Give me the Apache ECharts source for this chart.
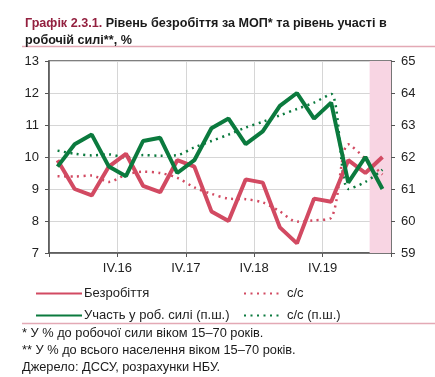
<!DOCTYPE html>
<html>
<head>
<meta charset="utf-8">
<script src="https://cdn.jsdelivr.net/npm/echarts@6/dist/echarts.min.js"></script>
<style>
  html, body { margin: 0; padding: 0; background: #fff; }
  #chart { width: 435px; height: 377px; }
</style>
</head>
<body>
<div id="chart"></div>
<script>
// квартали I.16 ... IV.20
const quarters = [
  'I.16', 'II.16', 'III.16', 'IV.16',
  'I.17', 'II.17', 'III.17', 'IV.17',
  'I.18', 'II.18', 'III.18', 'IV.18',
  'I.19', 'II.19', 'III.19', 'IV.19',
  'I.20', 'II.20', 'III.20', 'IV.20'
]
const tickLabels = ['IV.16', 'IV.17', 'IV.18', 'IV.19']
// безробіття, % (л.ш.)
const unemp = [9.9, 9.0, 8.8, 9.7, 10.1, 9.1, 8.9, 9.9, 9.7, 8.3, 8.0, 9.3, 9.2, 7.8, 7.3, 8.7, 8.6, 9.9, 9.5, 10.0]
const unempSA = [9.4, 9.39, 9.42, 9.22, 9.45, 9.54, 9.5, 9.35, 9.05, 8.85, 8.7, 8.68, 8.58, 8.3, 7.98, 8.02, 8.1, 10.4, 9.95, 9.45]
// участь у робочій силі, % (п.ш.)
const part = [61.7, 62.4, 62.7, 61.7, 61.4, 62.5, 62.6, 61.5, 61.9, 62.9, 63.2, 62.4, 62.8, 63.6, 64.0, 63.2, 63.7, 61.2, 62.0, 61.0]
const partSA = [62.2, 62.1, 62.05, 62.08, 61.99, 62.06, 62.04, 62.06, 62.3, 62.5, 62.7, 62.92, 63.1, 63.3, 63.5, 63.7, 63.97, 61.0, 61.22, 61.6]

const red = '#d24a62'
const green = '#0b7a3e'
const font = "'Liberation Sans', Arial, sans-serif"
const axisColor = '#555'

const chart = echarts.init(document.getElementById('chart'))

const option = {
  animation: false,
  textStyle: { fontFamily: font },
  title: {
    left: 20,
    top: 10,
    text: '{m|Графік 2.3.1.} Рівень безробіття за МОП* та рівень участі в\nробочій силі**, %',
    textStyle: {
      fontSize: 12.6,
      fontWeight: 'bold',
      color: '#1a1a1a',
      lineHeight: 17,
      fontFamily: font,
      rich: {
        m: { fontSize: 12.6, fontWeight: 'bold', color: '#93203f', fontFamily: font }
      }
    }
  },
  graphic: [
    { type: 'line', shape: { x1: 22, y1: 46.5, x2: 435, y2: 46.5 }, style: { stroke: '#e3a9b5', lineWidth: 1.5 } },
    { type: 'line', shape: { x1: 22, y1: 323.5, x2: 435, y2: 323.5 }, style: { stroke: '#e3a9b5', lineWidth: 1.5 } },
    {
      type: 'text',
      left: 22,
      top: 325,
      style: {
        text: '* У % до робочої сили віком 15–70 років.\n** У % до всього населення віком 15–70 років.\nДжерело: ДССУ, розрахунки НБУ.',
        font: '12.8px ' + font,
        lineHeight: 17,
        fill: '#1a1a1a'
      }
    }
  ],
  legend: [
    {
      left: 30,
      top: 282,
      orient: 'vertical',
      itemWidth: 46,
      itemHeight: 12,
      itemGap: 9,
      itemStyle: { opacity: 0 },
      textStyle: { fontSize: 13, color: '#222', padding: [0, 0, 0, -3] },
      data: ['Безробіття', 'Участь у роб. силі (п.ш.)']
    },
    {
      left: 238,
      top: 282,
      orient: 'vertical',
      itemWidth: 38,
      itemHeight: 12,
      itemGap: 9,
      itemStyle: { opacity: 0 },
      textStyle: { fontSize: 13, color: '#222' },
      data: ['с/с', 'с/с (п.ш.)']
    }
  ],
  grid: {
    left: 49,
    right: 44,
    top: 61,
    bottom: 124,
    show: true,
    borderColor: axisColor,
    borderWidth: 1.5
  },
  xAxis: [
    {
      type: 'category',
      data: quarters,
      boundaryGap: true,
      show: false
    },
    {
      type: 'value',
      min: 0,
      max: 20,
      interval: 4,
      position: 'bottom',
      axisLine: { show: true, lineStyle: { color: axisColor, width: 1.5 } },
      axisTick: { show: true, length: 4, lineStyle: { color: axisColor } },
      splitLine: { show: true, lineStyle: { color: '#d6d6d6' } },
      axisLabel: {
        color: '#222',
        fontSize: 13,
        margin: 9,
        formatter: function (v) {
          const i = v / 4 - 1
          return (i >= 0 && i < tickLabels.length) ? tickLabels[i] : ''
        }
      }
    }
  ],
  yAxis: [
    {
      type: 'value',
      min: 7,
      max: 13,
      interval: 1,
      axisLine: { show: true, lineStyle: { color: axisColor, width: 1.5 } },
      axisTick: { show: true, length: 4, lineStyle: { color: axisColor } },
      splitLine: { show: true, lineStyle: { color: '#d6d6d6' } },
      axisLabel: { color: '#222', fontSize: 13, margin: 10 }
    },
    {
      type: 'value',
      min: 59,
      max: 65,
      interval: 1,
      position: 'right',
      axisLine: { show: true, lineStyle: { color: axisColor, width: 1.5 } },
      axisTick: { show: true, length: 4, lineStyle: { color: axisColor } },
      splitLine: { show: false },
      axisLabel: { color: '#222', fontSize: 13, margin: 10 }
    }
  ],
  series: [
    {
      // затінення прогнозного періоду
      type: 'line',
      xAxisIndex: 1,
      yAxisIndex: 0,
      data: [],
      silent: true,
      markArea: {
        silent: true,
        itemStyle: { color: '#f8d5e3' },
        data: [[{ xAxis: 18.75 }, { xAxis: 20 }]]
      }
    },
    {
      name: 'с/с',
      type: 'line',
      yAxisIndex: 0,
      data: unempSA,
      symbol: 'none',
      smooth: 0.3,
      lineStyle: { color: red, width: 2.5, type: [2, 4.5] },
      itemStyle: { color: red }
    },
    {
      name: 'с/с (п.ш.)',
      type: 'line',
      yAxisIndex: 1,
      data: partSA,
      symbol: 'none',
      smooth: 0.3,
      lineStyle: { color: green, width: 2.5, type: [2, 4.5] },
      itemStyle: { color: green }
    },
    {
      name: 'Безробіття',
      type: 'line',
      yAxisIndex: 0,
      data: unemp,
      symbol: 'none',
      lineStyle: { color: red, width: 4 },
      itemStyle: { color: red }
    },
    {
      name: 'Участь у роб. силі (п.ш.)',
      type: 'line',
      yAxisIndex: 1,
      data: part,
      symbol: 'none',
      lineStyle: { color: green, width: 4 },
      itemStyle: { color: green }
    }
  ]
}

chart.setOption(option)
</script>
</body>
</html>
